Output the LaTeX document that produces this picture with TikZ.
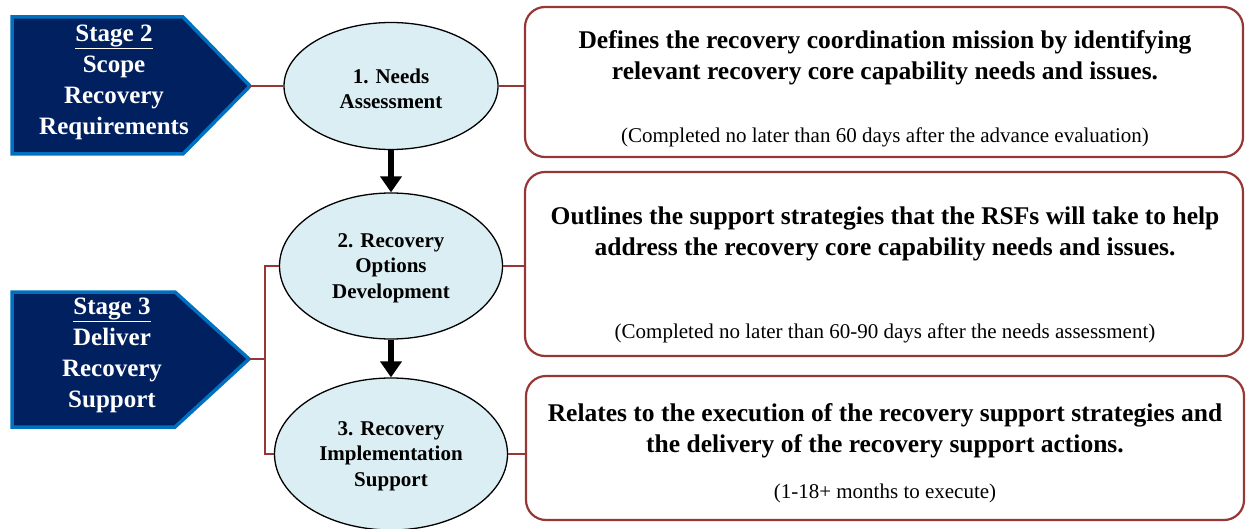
\documentclass[tikz,border=0pt]{standalone}
\usepackage{fontspec}
\setmainfont{Liberation Serif}
\usetikzlibrary{arrows.meta,shapes.geometric}

\definecolor{navy}{HTML}{002060}
\definecolor{stageedge}{HTML}{0070C0}
\definecolor{phasefill}{HTML}{DAEEF3}
\definecolor{linkred}{HTML}{953735}

\tikzset{
  stagebox/.style={fill=navy, draw=stageedge, line width=3.5pt, line join=miter},
  stagetext/.style={text=white, align=center, font=\bfseries\fontsize{25}{31}\selectfont},
  phase/.style={ellipse, draw=black, line width=1.3pt, fill=phasefill, inner sep=0pt},
  phasetext/.style={align=center, font=\bfseries\fontsize{21}{25.5}\selectfont},
  infobox/.style={draw=linkred, line width=2.2pt, rounded corners=20pt, fill=white,
                  minimum width=718pt, inner sep=0pt},
  maintext/.style={align=center, font=\bfseries\fontsize{25.5}{31.5}\selectfont},
  notetext/.style={align=center, font=\fontsize{21}{24}\selectfont},
  link/.style={draw=linkred, line width=2pt},
  flow/.style={draw=black, line width=6pt, -{Triangle[width=21pt,length=16pt]}}
}

\begin{document}
\begin{tikzpicture}[x=1pt,y=-1pt]
\useasboundingbox (0,0) rectangle (1246,529);

% stage pentagons
\draw[stagebox] (12,17) -- (183,17) -- (250,86) -- (183,154) -- (12,154) -- cycle;
\coordinate (s2tip) at (250,86);
\node[stagetext] (s2) at (114,82) {\underline{Stage 2}\\Scope\\Recovery\\Requirements};

\draw[stagebox] (12,292) -- (175,292) -- (249,359) -- (175,427) -- (12,427) -- cycle;
\coordinate (s3tip) at (249,359);
\node[stagetext] (s3) at (112,355) {\underline{Stage 3}\\Deliver\\Recovery\\Support};

% phase ellipses and their labels
\node[phase, minimum width=214pt, minimum height=127pt] (e1) at (391,86) {};
\node[phasetext] (e1t) at (391,89) {1. Needs\\Assessment};
\node[phase, minimum width=223pt, minimum height=146pt] (e2) at (391,266) {};
\node[phasetext] (e2t) at (391,268) {2. Recovery\\Options\\Development};
\node[phase, minimum width=233pt, minimum height=152pt] (e3) at (391,454) {};
\node[phasetext] (e3t) at (391,456) {3. Recovery\\Implementation\\Support};

% description boxes
\node[infobox, minimum height=150pt] (b1) at (884,82) {};
\node[maintext] (t1) at (885,58) {Defines the recovery coordination mission by identifying\\relevant recovery core capability needs and issues.};
\node[notetext] (n1) at (885,137) {(Completed no later than 60 days after the advance evaluation)};

\node[infobox, minimum height=184pt] (b2) at (884,264) {};
\node[maintext] (t2) at (885,234) {Outlines the support strategies that the RSFs will take to help\\address the recovery core capability needs and issues.};
\node[notetext] (n2) at (885,333) {(Completed no later than 60-90 days after the needs assessment)};

\node[infobox, minimum height=144pt] (b3) at (885,448) {};
\node[maintext] (t3) at (885,431) {Relates to the execution of the recovery support strategies and\\the delivery of the recovery support actions.};
\node[notetext] (n3) at (885,493) {(1-18+ months to execute)};

% connectors
\draw[link] (s2tip) -- (e1.west);
\draw[link] (e1.east) -- (e1.east -| b1.west);
\draw[link] (s3tip) -- ++(16,0) coordinate (s3j);
\draw[link] (e2.west) -| (s3j) |- (e3.west);
\draw[link] (e2.east) -- (e2.east -| b2.west);
\draw[link] (e3.east) -- (e3.east -| b3.west);

% flow arrows
\draw[flow] (e1.south) -- (e2.north);
\draw[flow] (e2.south) -- (e3.north);
\end{tikzpicture}
\end{document}
